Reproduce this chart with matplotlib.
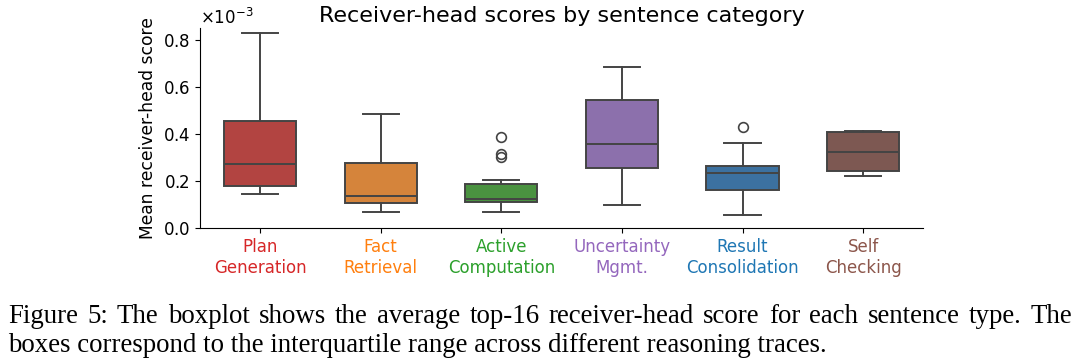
import matplotlib
matplotlib.use("Agg")
import matplotlib.pyplot as plt
from matplotlib.ticker import ScalarFormatter

# values, in units of 1e-3
categories = ["Plan\nGeneration", "Fact\nRetrieval", "Active\nComputation",
              "Uncertainty\nMgmt.", "Result\nConsolidation", "Self\nChecking"]
whisker_lo = [0.146, 0.067, 0.067, 0.098, 0.055, 0.220]
q1 = [0.180, 0.106, 0.112, 0.255, 0.163, 0.244]
median = [0.271, 0.136, 0.123, 0.356, 0.234, 0.325]
q3 = [0.455, 0.277, 0.186, 0.545, 0.262, 0.408]
whisker_hi = [0.829, 0.485, 0.204, 0.685, 0.363, 0.411]
fliers = [[], [], [0.386, 0.314, 0.303], [], [0.431], []]
SCALE = 1e-3

label_colors = ["#d62728", "#ff7f0e", "#2ca02c", "#9467bd", "#1f77b4", "#8c564b"]
box_colors = ["#b24441", "#d5843b", "#4a9240", "#8c70ac", "#3c71a0", "#7d5852"]

caption_1 = ("Figure 5: The boxplot shows the average top-16 receiver-head score "
             "for each sentence type. The")
caption_2 = "boxes correspond to the interquartile range across different reasoning traces."

stats = []
for i, lab in enumerate(categories):
    stats.append({
        "label": lab,
        "whislo": whisker_lo[i] * SCALE, "q1": q1[i] * SCALE, "med": median[i] * SCALE,
        "q3": q3[i] * SCALE, "whishi": whisker_hi[i] * SCALE,
        "fliers": [v * SCALE for v in fliers[i]],
    })

fig = plt.figure(figsize=(10.8, 3.61), dpi=100)
ax = fig.add_axes([0.185, 0.3684, 0.67, 0.554])

line_c = "#444444"
lw = 1.4
bp = ax.bxp(stats, positions=range(len(categories)), widths=0.6, patch_artist=True,
            boxprops=dict(edgecolor=line_c, linewidth=lw),
            medianprops=dict(color=line_c, linewidth=lw),
            whiskerprops=dict(color=line_c, linewidth=lw),
            capprops=dict(color=line_c, linewidth=lw),
            capwidths=0.3,
            flierprops=dict(marker="o", markerfacecolor="none", markeredgecolor=line_c,
                            markersize=7, markeredgewidth=1.2))
for patch, c in zip(bp["boxes"], box_colors):
    patch.set_facecolor(c)

ax.set_xlim(-0.5, len(categories) - 0.5)
ax.set_ylim(0, 0.851 * SCALE)
ax.set_yticks([v * SCALE for v in (0.0, 0.2, 0.4, 0.6, 0.8)])
fmt = ScalarFormatter(useMathText=True)
fmt.set_powerlimits((-3, -3))
ax.yaxis.set_major_formatter(fmt)
ax.yaxis.get_offset_text().set_fontsize(12)
ax.tick_params(labelsize=12)
for lab, c in zip(ax.get_xticklabels(), label_colors):
    lab.set_color(c)
ax.set_ylabel("Mean receiver-head score", fontsize=12.3)
ax.set_title("Receiver-head scores by sentence category", fontsize=16, pad=4)
for s in ("top", "right"):
    ax.spines[s].set_visible(False)

# caption: first line justified to the full width, second line left aligned
cap_kw = dict(family="Liberation Serif", fontsize=19.4, va="baseline")
x0, x1 = 8 / 1080, 1072 / 1080
renderer = fig.canvas.get_renderer()
words = caption_1.split(" ")
widths = []
for w in words:
    t = fig.text(0, 0, w, **cap_kw)
    widths.append(t.get_window_extent(renderer).width / fig.bbox.width)
    t.remove()
gap = (x1 - x0 - sum(widths)) / (len(words) - 1)
x = x0
for w, wd in zip(words, widths):
    fig.text(x, 1 - 323 / 361, w, **cap_kw)
    x += wd + gap
fig.text(x0, 1 - 352 / 361, caption_2, **cap_kw)

fig.savefig("out.png", dpi=100)
